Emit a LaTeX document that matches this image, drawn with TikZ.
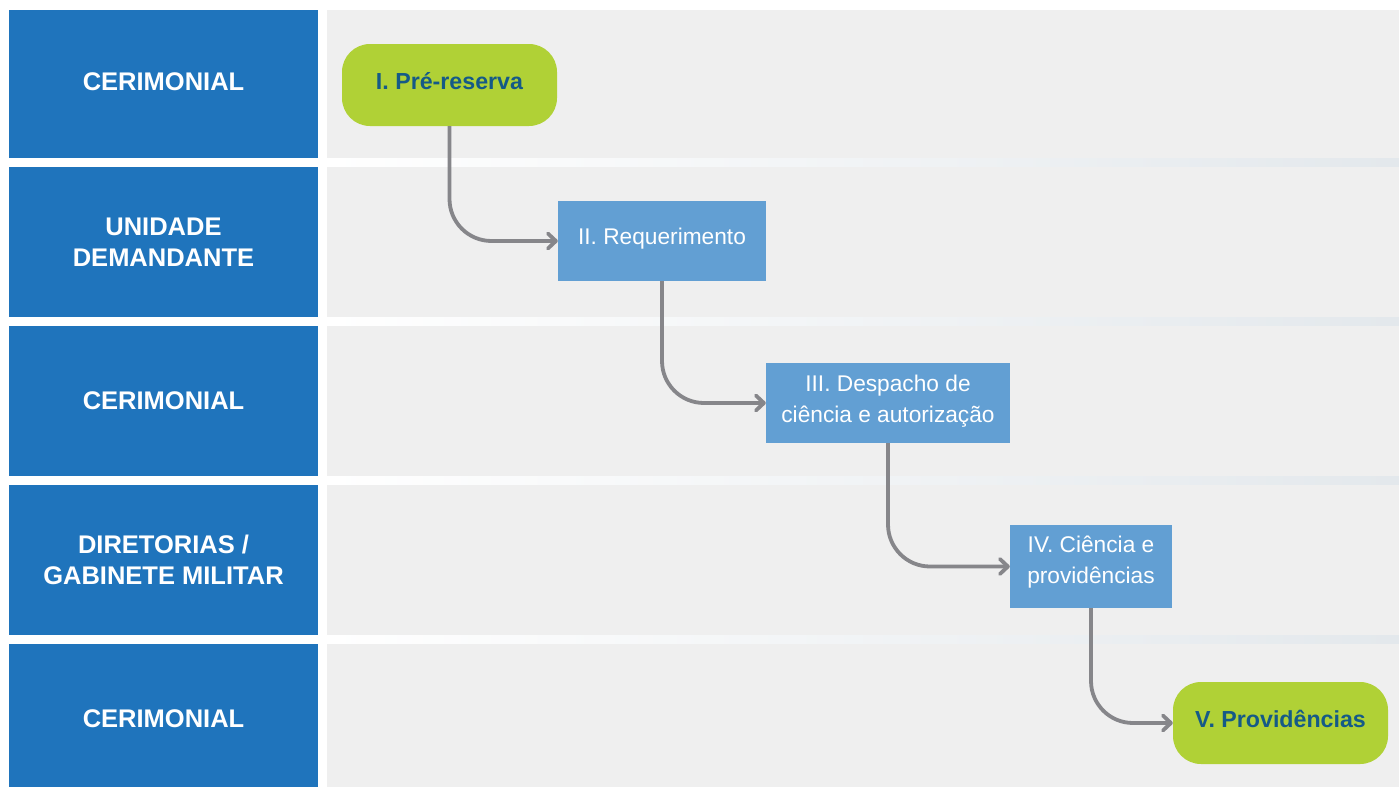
\documentclass[tikz,border=0pt]{standalone}
\usepackage{fontspec}
\setmainfont{Liberation Sans}
\usetikzlibrary{arrows.meta}
\definecolor{laneblue}{HTML}{1F74BC}
\definecolor{lanegray}{HTML}{EFEFEF}
\definecolor{nodeblue}{HTML}{629FD3}
\definecolor{nodegreen}{HTML}{B0D136}
\definecolor{darktext}{HTML}{155A87}
\definecolor{arrowgray}{HTML}{86868A}
\definecolor{gapright}{HTML}{E3E8EC}
\tikzset{
  lanelabel/.style={text=white, font=\fontsize{25.5}{31}\selectfont\bfseries, align=center},
  bluebox/.style={fill=nodeblue, inner sep=0pt},
  bluetext/.style={text=white, font=\fontsize{22.7}{31}\selectfont, align=center, inner sep=0pt},
  greenbox/.style={fill=nodegreen, rounded corners=28pt, inner sep=0pt},
  greentext/.style={text=darktext, font=\fontsize{23.2}{28}\selectfont\bfseries, align=center, inner sep=0pt},
  flow/.style={draw=arrowgray, line width=3.8pt, rounded corners=42pt, -{Straight Barb[length=8pt,width=15pt,round]}}
}
\begin{document}
\begin{tikzpicture}[x=1pt,y=-1pt]
\useasboundingbox (0,0) rectangle (1399,787);
\fill[white] (0,0) rectangle (1399,787);
% gaps
\foreach \a/\b in {158/167,317/326,476/485,635/644}{
  \shade[left color=white, right color=gapright] (327,\a) rectangle (1399,\b);
}
% lanes
\foreach \a/\b in {10/158,167/317,326/476,485/635,644/787}{
  \fill[laneblue] (9,\a) rectangle (318,\b);
  \fill[lanegray] (327,\a) rectangle (1399,\b);
}
% lane labels
\node[lanelabel] (l1) at (163.5,82) {CERIMONIAL};
\node[lanelabel] (l2) at (163.5,242) {UNIDADE\\DEMANDANTE};
\node[lanelabel] (l3) at (163.5,401) {CERIMONIAL};
\node[lanelabel] (l4) at (163.5,560) {DIRETORIAS /\\GABINETE MILITAR};
\node[lanelabel] (l5) at (163.5,719) {CERIMONIAL};
% process nodes
\node[greenbox, minimum width=215, minimum height=82,
  label={[greentext, yshift=4pt]center:I. Pré-reserva}] (n1) at (449.5,85) {};
\node[bluebox, minimum width=208, minimum height=80,
  label={[bluetext, yshift=2pt]center:II. Requerimento}] (n2) at (662,241) {};
\node[bluebox, minimum width=244, minimum height=80,
  label={[bluetext, yshift=2pt]center:III. Despacho de\\ciência e autorização}] (n3) at (888,403) {};
\node[bluebox, minimum width=162, minimum height=83,
  label={[bluetext, yshift=4pt]center:IV. Ciência e\\providências}] (n4) at (1091,566.5) {};
\node[greenbox, minimum width=215, minimum height=82,
  label={[greentext, yshift=4pt]center:V. Providências}] (n5) at (1280.5,723) {};
% connectors
\draw[flow] (n1.south) |- (n2.west);
\draw[flow] (n2.south) |- (n3.west);
\draw[flow] (n3.south) |- (n4.west);
\draw[flow] (n4.south) |- (n5.west);
\end{tikzpicture}
\end{document}
